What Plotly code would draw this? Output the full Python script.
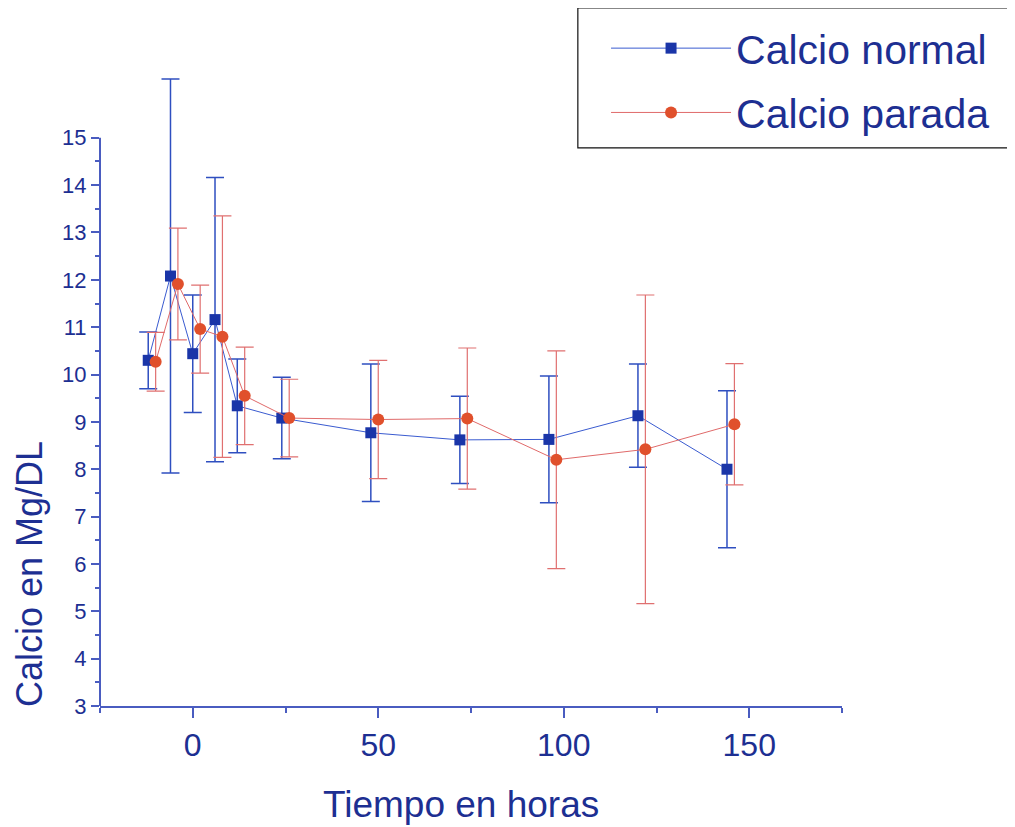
import plotly.graph_objects as go

# Calcio normal (blue squares)
t_normal = [-12, -6, 0, 6, 12, 24, 48, 72, 96, 120, 144]
ca_normal = [10.30, 12.08, 10.44, 11.16, 9.34, 9.08, 8.77, 8.62, 8.63, 9.13, 8.00]
sd_normal = [0.60, 4.16, 1.24, 3.00, 0.99, 0.86, 1.45, 0.92, 1.34, 1.09, 1.66]

# Calcio parada (red circles)
t_parada = [-10, -4, 2, 8, 14, 26, 50, 74, 98, 122, 146]
ca_parada = [10.27, 11.91, 10.96, 10.80, 9.55, 9.08, 9.05, 9.07, 8.20, 8.42, 8.95]
sd_parada = [0.62, 1.18, 0.93, 2.55, 1.03, 0.82, 1.25, 1.49, 2.30, 3.26, 1.28]

x_ticks = [0, 50, 100, 150]
y_ticks = list(range(3, 16))
y_minor = [v + 0.5 for v in range(3, 15)]

FONT = "Liberation Sans, Arial, sans-serif"
AXIS_BLUE = "#4a5cc0"
TEXT_BLUE = "#1d2f92"

fig = go.Figure()
fig.add_trace(go.Scatter(
    x=t_normal, y=ca_normal, name="Calcio normal", mode="lines+markers",
    legendgroup="n",
    line=dict(color="#3a5bd0", width=1),
    marker=dict(symbol="square", size=11, color="#1a35a8"),
    error_y=dict(type="data", array=sd_normal, visible=True, color="#2f4fc0", thickness=1.5, width=9),
))
fig.add_trace(go.Scatter(
    x=t_parada, y=ca_parada, name="Calcio parada", mode="lines+markers",
    legendgroup="p",
    line=dict(color="#e06a6a", width=1),
    marker=dict(symbol="circle", size=12, color="#e0502c"),
    error_y=dict(type="data", array=sd_parada, visible=True, color="#e07070", thickness=1.2, width=9),
))

fig.update_layout(
    width=1007, height=819,
    margin=dict(l=92, r=173, t=54, b=121, autoexpand=False),
    paper_bgcolor="white", plot_bgcolor="white",
    showlegend=True,
    legend=dict(
        x=0.682, y=1.073, xanchor="left", yanchor="top",
        borderwidth=0, bgcolor="rgba(0,0,0,0)",
        font=dict(family=FONT, size=41, color=TEXT_BLUE),
        itemwidth=120, traceorder="grouped", tracegroupgap=8,
    ),
    xaxis=dict(
        range=[-25, 175], tickvals=x_ticks, ticktext=[str(v) for v in x_ticks],
        showgrid=False, zeroline=False, showline=True, linecolor=AXIS_BLUE, linewidth=2,
        ticks="outside", ticklen=10, tickcolor=AXIS_BLUE, tickwidth=1.5,
        minor=dict(dtick=25, tick0=0, ticks="outside", ticklen=5, tickcolor=AXIS_BLUE),
        tickfont=dict(family=FONT, size=32, color=TEXT_BLUE),
    ),
    yaxis=dict(
        range=[3, 16.6], tickvals=y_ticks, ticktext=[str(v) for v in y_ticks],
        showgrid=False, zeroline=False, showline=False,
        ticks="outside", ticklen=8, tickcolor=AXIS_BLUE, tickwidth=1.5,
        minor=dict(tickvals=y_minor, ticks="outside", ticklen=4, tickcolor=AXIS_BLUE),
        tickfont=dict(family=FONT, size=22, color=TEXT_BLUE),
    ),
    shapes=[
        # y axis line (only up to 15, as in the reference)
        dict(type="line", xref="paper", yref="y", x0=0, x1=0, y0=3, y1=15,
             line=dict(color=AXIS_BLUE, width=2)),
        # legend frame (runs off the right edge, as in the reference)
        dict(type="rect", xref="paper", yref="paper", x0=0.644, x1=1.5, y0=0.8665, y1=1.0839,
             line=dict(color="#111111", width=1.2), fillcolor="rgba(0,0,0,0)"),
    ],
    annotations=[
        dict(text="Calcio en Mg/DL", xref="paper", yref="paper", x=-0.0943, y=0.205,
             textangle=-90, showarrow=False, xanchor="center", yanchor="middle",
             font=dict(family=FONT, size=36, color=TEXT_BLUE)),
        dict(text="Tiempo en horas", xref="paper", yref="paper", x=0.4865, y=-0.1537,
             showarrow=False, xanchor="center", yanchor="middle",
             font=dict(family=FONT, size=37, color=TEXT_BLUE)),
    ],
)

fig.write_html("out.html")
